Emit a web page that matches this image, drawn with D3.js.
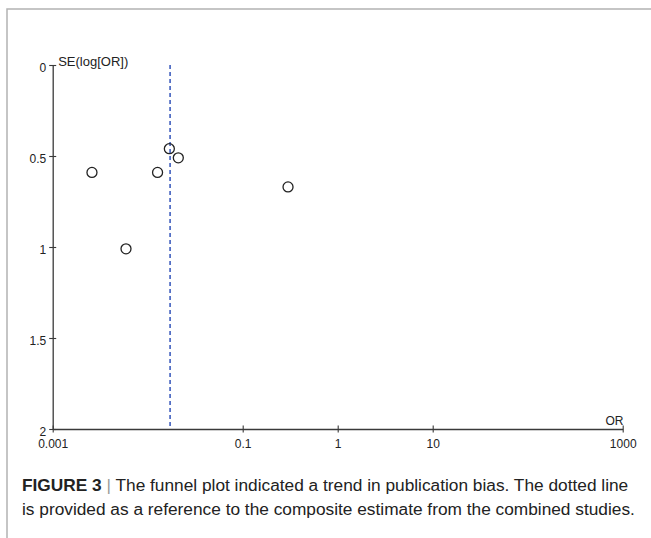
<!DOCTYPE html>
<html>
<head>
<meta charset="utf-8">
<script src="https://cdn.jsdelivr.net/npm/d3@7"></script>
<style>
  html, body { margin: 0; padding: 0; background: #fff; }
  svg { display: block; }
</style>
</head>
<body>
<svg id="chart" width="651" height="538"></svg>
<script>
// ---- data ----
const studyOR = [0.00259, 0.0127, 0.0169, 0.0210, 0.00591, 0.300];
const studySE = [0.59, 0.59, 0.46, 0.51, 1.01, 0.67];
const pooledOR = [0.0172];
const xTickValues = [0.001, 0.1, 1, 10, 1000];
const xTickLabels = ["0.001", "0.1", "1", "10", "1000"];
const yTickValues = [0, 0.5, 1, 1.5, 2];
const yTickLabels = ["0", "0.5", "1", "1.5", "2"];
const yAxisTitle = ["SE(log[OR])"];
const xAxisTitle = ["OR"];
const captionBold = ["FIGURE 3"];
const captionLines = [
  "The funnel plot indicated a trend in publication bias. The dotted line",
  "is provided as a reference to the composite estimate from the combined studies."
];

const svg = d3.select("#chart");
const font = "'Liberation Sans', Arial, Helvetica, sans-serif";

// frame
svg.append("path")
  .attr("d", "M7,538 L7,9 L651,9")
  .attr("fill", "none")
  .attr("stroke", "#b3b3b3")
  .attr("stroke-width", 1.5);

const x = d3.scaleLog().domain([0.001, 1000]).range([52.7, 622.7]);
const y = d3.scaleLinear().domain([0, 2]).range([65, 429]);

const axisColor = "#3a3a3a";
const tickFont = 12;

// x axis
const gx = svg.append("g").attr("transform", `translate(0,${y(2)})`)
  .call(d3.axisBottom(x).tickValues(xTickValues)
    .tickFormat((d, i) => xTickLabels[i]).tickSizeOuter(0).tickSizeInner(3).tickPadding(7));
gx.select(".domain").attr("stroke", axisColor).attr("stroke-width", 1.3);
gx.selectAll(".tick line").attr("y1", -3.5).attr("y2", 3.5).attr("stroke", axisColor).attr("stroke-width", 1.1);
gx.selectAll(".tick text").attr("font-family", font).attr("font-size", tickFont).attr("fill", "#222");

// y axis
const gy = svg.append("g").attr("transform", `translate(${x(0.001)},0)`)
  .call(d3.axisLeft(y).tickValues(yTickValues)
    .tickFormat((d, i) => yTickLabels[i]).tickSizeOuter(0).tickSizeInner(3).tickPadding(4));
gy.select(".domain").attr("stroke", axisColor).attr("stroke-width", 1.3);
gy.selectAll(".tick line").attr("x1", -3.5).attr("x2", 3.5).attr("stroke", axisColor).attr("stroke-width", 1.1);
gy.selectAll(".tick text").attr("font-family", font).attr("font-size", tickFont).attr("fill", "#222")
  .attr("dy", "0.5em").attr("x", -6.5);

// axis titles
svg.append("text").text(yAxisTitle[0])
  .attr("x", x(0.001) + 5.5).attr("y", y(0) + 0.5)
  .attr("font-family", font).attr("font-size", 13).attr("fill", "#222");
svg.append("text").text(xAxisTitle[0])
  .attr("x", x(1000) + 0.8).attr("y", y(2) - 4.5)
  .attr("text-anchor", "end")
  .attr("font-family", font).attr("font-size", tickFont).attr("fill", "#222");

// pooled estimate dashed line
svg.selectAll(".pooled").data(pooledOR).join("line")
  .attr("class", "pooled")
  .attr("x1", d => x(d)).attr("x2", d => x(d))
  .attr("y1", y(0)).attr("y2", y(2))
  .attr("stroke", "#2347b5").attr("stroke-width", 1.4)
  .attr("stroke-dasharray", "4,3");

// study points
svg.selectAll(".pt").data(studyOR).join("circle")
  .attr("class", "pt")
  .attr("cx", d => x(d))
  .attr("cy", (d, i) => y(studySE[i]))
  .attr("r", 5)
  .attr("fill", "none")
  .attr("stroke", "#222")
  .attr("stroke-width", 1.3);

// caption
const capSize = 17.3;
const cap = svg.append("text")
  .attr("x", 22).attr("y", 491)
  .attr("font-family", font).attr("font-size", capSize).attr("fill", "#222");
cap.append("tspan").attr("font-weight", "bold").text(captionBold[0]);
cap.append("tspan").attr("fill", "#999").text(" | ");
cap.append("tspan").text(captionLines[0]);
svg.append("text")
  .attr("x", 22).attr("y", 515)
  .attr("font-family", font).attr("font-size", capSize).attr("fill", "#222")
  .text(captionLines[1]);
</script>
</body>
</html>
